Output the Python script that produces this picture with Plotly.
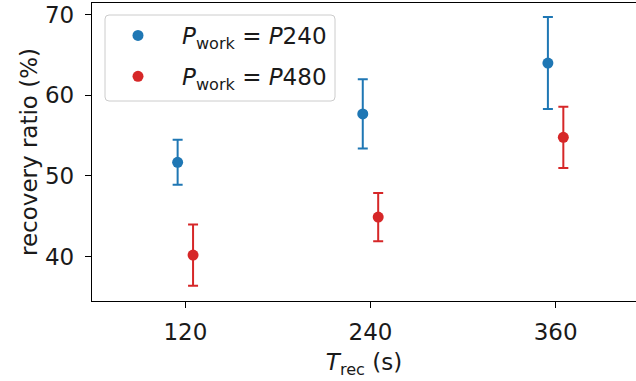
import plotly.graph_objects as go

t_rec = [120, 240, 360]
blue_x = [115, 235, 355]
red_x = [125, 245, 365]
blue_vals = [51.7, 57.7, 64.0]
blue_err = [2.8, 4.3, 5.7]
red_vals = [40.2, 44.9, 54.8]
red_err = [3.8, 3.0, 3.8]
names = ["<i>P</i><sub>work</sub> = <i>P</i>240", "<i>P</i><sub>work</sub> = <i>P</i>480"]
colors = ["#1f77b4", "#d62728"]

FONT = "DejaVu Sans"
W, H = 636, 381
ML, MR, MT, MB = 92, 0, 3, 80
PW, PH = W - ML - MR, H - MT - MB

fig = go.Figure()
for xs, ys, es, nm, c, g in [(blue_x, blue_vals, blue_err, names[0], colors[0], "a"),
                             (red_x, red_vals, red_err, names[1], colors[1], "b")]:
    fig.add_trace(go.Scatter(
        x=xs, y=ys, mode="markers", name=nm, legendgroup=g,
        marker=dict(color=c, size=11),
        error_y=dict(type="data", array=es, visible=True, color=c, thickness=2, width=5),
    ))

def px_x(p):
    return (p - ML) / PW

def px_y(p):
    return 1 - (p - MT) / PH

# rounded legend frame
x0, x1 = px_x(105), px_x(335)
y1, y0 = px_y(15), px_y(101)
rx, ry = 4 / PW, 4 / PH
path = (f"M {x0+rx},{y1} L {x1-rx},{y1} Q {x1},{y1} {x1},{y1-ry} "
        f"L {x1},{y0+ry} Q {x1},{y0} {x1-rx},{y0} L {x0+rx},{y0} "
        f"Q {x0},{y0} {x0},{y0+ry} L {x0},{y1-ry} Q {x0},{y1} {x0+rx},{y1} Z")
fig.add_shape(type="path", path=path, xref="paper", yref="paper",
              line=dict(color="#cccccc", width=1), fillcolor="rgba(255,255,255,0.8)", layer="above")

axis_common = dict(showline=True, linecolor="black", linewidth=1.3, ticks="outside",
                   ticklen=6, tickwidth=1.3, tickcolor="black", showgrid=False, zeroline=False,
                   tickfont=dict(family=FONT, size=23, color="#1a1a1a"))

fig.update_layout(
    width=W, height=H,
    margin=dict(l=ML, r=MR, t=MT, b=MB),
    plot_bgcolor="white", paper_bgcolor="white",
    showlegend=True,
    legend=dict(x=px_x(94), y=px_y(14), xanchor="left", yanchor="top",
                bgcolor="rgba(0,0,0,0)", borderwidth=0,
                font=dict(family=FONT, size=23, color="#1a1a1a"),
                itemwidth=78, tracegroupgap=8),
    xaxis=dict(range=[59.5, 412.1], tickvals=t_rec, ticktext=[str(v) for v in t_rec],
               mirror=True, ticklabelstandoff=4,
               title=dict(text="<i>T</i><sub>rec</sub> (s)", font=dict(family=FONT, size=23, color="#1a1a1a"), standoff=10),
               **axis_common),
    yaxis=dict(range=[34.5, 71.45], tickvals=[40, 50, 60, 70], mirror=False, ticklabelstandoff=6,
               title=dict(text="recovery ratio (%)", font=dict(family=FONT, size=23, color="#1a1a1a"), standoff=0),
               **axis_common),
)

fig.write_html("out.html")
